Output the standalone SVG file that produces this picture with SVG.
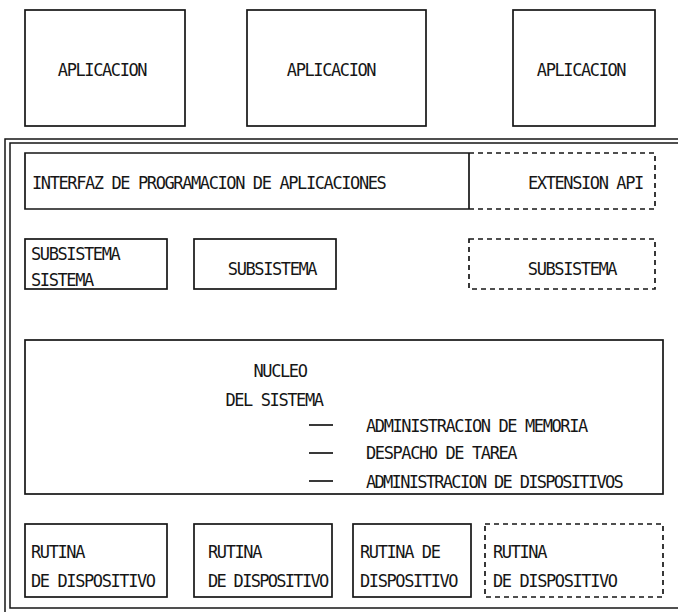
<svg xmlns="http://www.w3.org/2000/svg" width="678" height="612" viewBox="0 0 678 612">
  <style>
    .box { fill: none; stroke: #161616; stroke-width: 1.7; }
    .dash { fill: none; stroke: #161616; stroke-width: 1.7; stroke-dasharray: 5 4; }
    .frame { fill: none; stroke: #161616; stroke-width: 1.5; }
    .ln { stroke: #161616; stroke-width: 1.7; }
    text { font-family: "DejaVu Sans Mono", "Liberation Mono", monospace; font-size: 17px; letter-spacing: -1.4px; fill: #161616; }
    .mid { text-anchor: middle; }
    .tight { letter-spacing: -1.7px; }
  </style>
  <rect width="678" height="612" fill="#ffffff"/>

  <!-- applications -->
  <g id="app1">
    <rect class="box" x="25" y="10" width="160" height="116"/>
    <text class="mid" x="102" y="76">APLICACION</text>
  </g>
  <g id="app2">
    <rect class="box" x="247" y="10" width="179" height="116"/>
    <text class="mid" x="331" y="76">APLICACION</text>
  </g>
  <g id="app3">
    <rect class="box" x="513" y="10" width="142" height="116"/>
    <text class="mid" x="581" y="76">APLICACION</text>
  </g>

  <!-- operating system double frame -->
  <g id="system">
    <rect class="frame" x="5" y="139" width="700" height="490"/>
    <rect class="frame" x="10" y="143" width="700" height="465"/>
  </g>

  <!-- API layer -->
  <g id="api">
    <polyline class="box" points="469,153 25,153 25,209 469,209"/>
    <line class="ln" x1="469" y1="153" x2="469" y2="209"/>
    <text x="32" y="189">INTERFAZ DE PROGRAMACION DE APLICACIONES</text>
  </g>
  <g id="api-ext">
    <polyline class="dash" points="469,153 655,153 655,209 469,209"/>
    <text x="528" y="189">EXTENSION API</text>
  </g>

  <!-- subsystems -->
  <g id="sub1">
    <rect class="box" x="25" y="239" width="142" height="50"/>
    <text x="31" y="260">SUBSISTEMA</text>
    <text x="31" y="286">SISTEMA</text>
  </g>
  <g id="sub2">
    <rect class="box" x="194" y="239" width="142" height="50"/>
    <text class="mid" x="272" y="275">SUBSISTEMA</text>
  </g>
  <g id="sub3">
    <rect class="dash" x="469" y="239" width="186" height="50"/>
    <text class="mid" x="572" y="275">SUBSISTEMA</text>
  </g>

  <!-- kernel -->
  <g id="kernel">
    <rect class="box" x="25" y="340" width="638" height="154"/>
    <text class="mid" x="280" y="377">NUCLEO</text>
    <text class="mid" x="274" y="406">DEL SISTEMA</text>
    <line class="ln" x1="309" y1="425" x2="333" y2="425"/>
    <line class="ln" x1="309" y1="453" x2="333" y2="453"/>
    <line class="ln" x1="309" y1="481" x2="333" y2="481"/>
    <text x="366" y="432">ADMINISTRACION DE MEMORIA</text>
    <text x="366" y="459">DESPACHO DE TAREA</text>
    <text class="tight" x="366" y="488">ADMINISTRACION DE DISPOSITIVOS</text>
  </g>

  <!-- device drivers -->
  <g id="drv1">
    <rect class="box" x="25" y="524" width="142" height="73"/>
    <text x="31" y="558">RUTINA</text>
    <text x="31" y="587">DE DISPOSITIVO</text>
  </g>
  <g id="drv2">
    <rect class="box" x="194" y="524" width="138" height="73"/>
    <text x="208" y="558">RUTINA</text>
    <text class="tight" x="208" y="587">DE DISPOSITIVO</text>
  </g>
  <g id="drv3">
    <rect class="box" x="353" y="524" width="118" height="73"/>
    <text x="360" y="558">RUTINA DE</text>
    <text x="360" y="587">DISPOSITIVO</text>
  </g>
  <g id="drv4">
    <rect class="dash" x="485" y="524" width="178" height="73"/>
    <text x="493" y="558">RUTINA</text>
    <text x="493" y="587">DE DISPOSITIVO</text>
  </g>
</svg>
